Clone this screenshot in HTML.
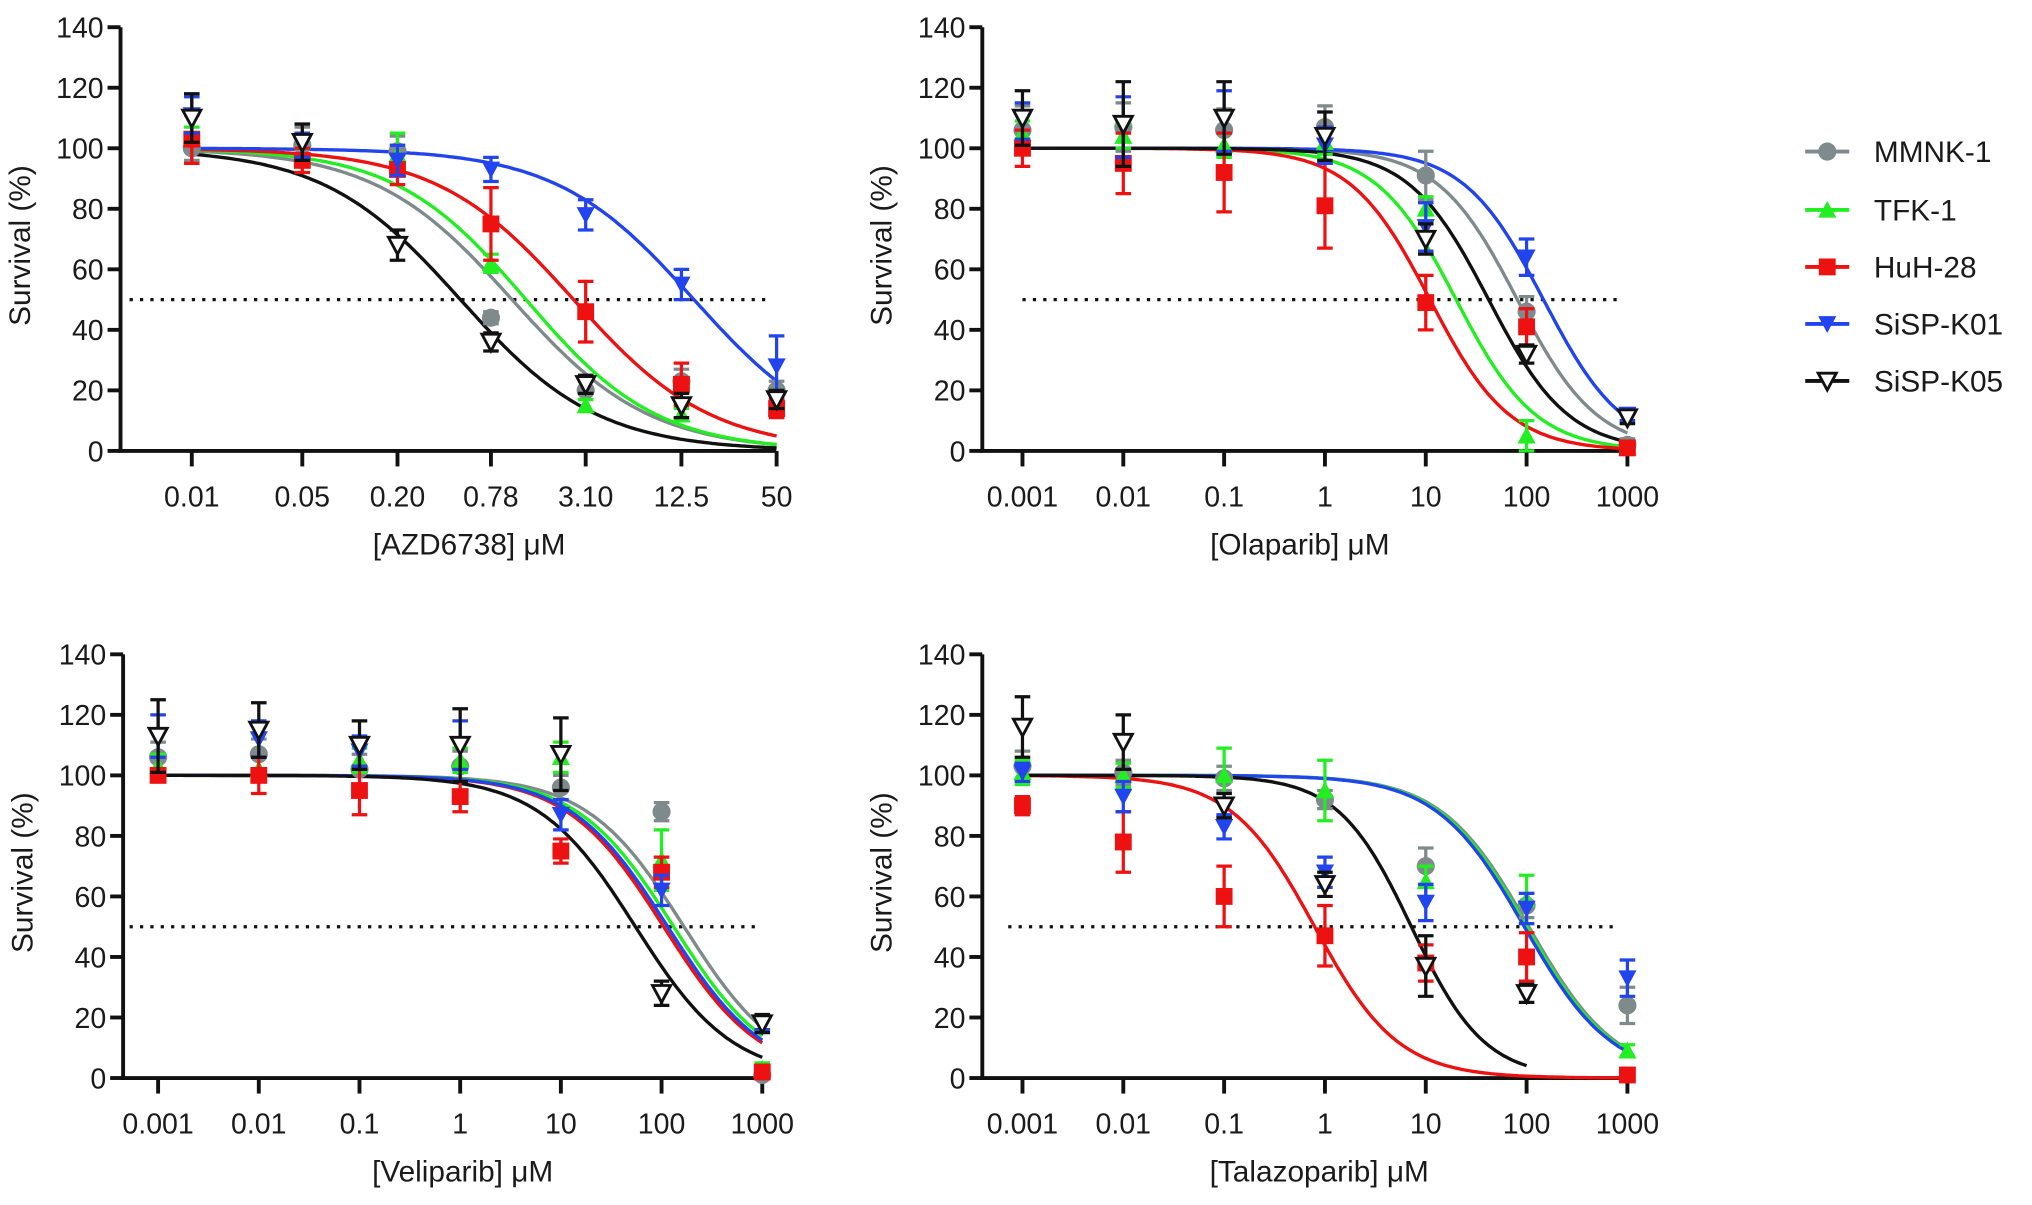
<!DOCTYPE html>
<html><head><meta charset="utf-8"><style>
html,body{margin:0;padding:0;background:#fff;}
svg{display:block;}
text{font-family:"Liberation Sans",Arial,sans-serif;fill:#1a1a1a;}
</style></head><body>
<svg id="chart" width="2032" height="1205" viewBox="0 0 1568 930" preserveAspectRatio="none" xmlns="http://www.w3.org/2000/svg"></svg>
<script>
// ---------- data ----------
const seriesNames = ["MMNK-1","TFK-1","HuH-28","SiSP-K01","SiSP-K05"];
const seriesColors = ["#7f8a8c","#22ee22","#ee1111","#2244ee","#111111"];
const yTicks = [0,20,40,60,80,100,120,140];

const azdConc = [0.01,0.05,0.2,0.78,3.1,12.5,50];
const azdLabels = ["0.01","0.05","0.20","0.78","3.10","12.5","50"];
const azdMeans = [
 [100,101,99,44,20,23,20],
 [104,97,98,62,15,12,14],
 [103,96,93,75,46,22,14],
 [111,101,96,93,78,55,28],
 [110,102,68,36,22,15,17]];
const azdErr = [
 [4,6,5,2,3,4,3],[3,3,7,3,2,2,2],[8,4,5,12,10,7,3],[6,4,5,4,5,5,10],[8,6,5,3,3,4,3]];
const azdIC50 = [1.06,1.3,2.6,15,0.5];
const azdHill = [1,1.05,1,1,1];

const logConc = [0.001,0.01,0.1,1,10,100,1000];
const logLabels = ["0.001","0.01","0.1","1","10","100","1000"];

const olaMeans = [
 [106,107,106,107,91,46,2],
 [105,104,101,102,80,5,1],
 [100,95,92,81,49,41,1],
 [109,107,109,101,74,64,12],
 [110,108,110,104,70,32,11]];
const olaErr = [[8,8,7,7,8,5,2],[4,4,4,4,4,5,2],[6,10,13,14,9,6,2],[6,10,10,6,8,6,2],[9,14,12,8,5,3,2]];
const olaIC50 = [81,20,11,147,42];
const olaHill = [1.1,1.1,1.1,1.1,1.1];

const velMeans = [
 [106,107,102,103,96,88,1],
 [103,102,105,105,106,72,3],
 [100,100,95,93,75,68,2],
 [113,112,108,110,87,62,18],
 [113,115,110,110,107,28,18]];
const velErr = [[5,5,5,5,4,3,1],[4,4,4,4,5,10,2],[2,6,8,5,4,5,1],[7,6,5,8,5,5,2],[12,9,8,12,12,4,3]];
const velIC50 = [167,132,105,115,55];
const velHill = [0.9,0.9,0.9,0.9,0.9];

const talMeans = [
 [103,101,99,92,70,57,24],
 [101,100,100,95,65,59,9],
 [90,78,60,47,38,40,1],
 [101,93,83,68,58,56,33],
 [116,111,90,64,37,28,null]];
const talErr = [[5,4,4,3,6,4,6],[4,4,9,10,5,8,2],[3,10,10,10,6,8,1],[3,5,4,5,6,5,6],[10,9,4,4,10,3,0]];
const talIC50 = [105,100,0.79,95,7.2];
const talHill = [1.0,1.0,1.05,1.0,1.2];
const talMaxConc = [1000,1000,1000,1000,100];

// ---------- drawing ----------
const svg = document.getElementById('chart');
const NS = "http://www.w3.org/2000/svg";
function mk(tag, attrs, parent){
  const e = document.createElementNS(NS, tag);
  for (const k in attrs) e.setAttribute(k, attrs[k]);
  (parent||svg).appendChild(e);
  return e;
}

function marker(g, i, x, y){
  const c = seriesColors[i]; let m;
  if (i===0){ m = mk('circle',{cx:x,cy:y,r:7,fill:c},g); }
  else if (i===1){ m = mk('polygon',{points:`${x},${y-7} ${x-7},${y+6} ${x+7},${y+6}`,fill:c},g); }
  else if (i===2){ m = mk('rect',{x:x-6.5,y:y-6.5,width:13,height:13,fill:c},g); }
  else if (i===3){ m = mk('polygon',{points:`${x-7},${y-6} ${x+7},${y-6} ${x},${y+7}`,fill:c},g); }
  else { m = mk('polygon',{points:`${x-7},${y-6} ${x+7},${y-6} ${x},${y+7}`,fill:'#fff',stroke:c,'stroke-width':2.2},g); }
  return m;
}

function panel(p){
  const g = mk('g',{});
  
  
  const y0=p.y0, y140=p.y140;
  const yS = v => y0 - (v/140)*(y0-y140);
  const lmin = Math.log10(p.conc[0]);
  const xS = c => p.x0 + (Math.log10(c)-lmin)*p.dec;
  const ax = mk('path',{d:`M${p.axX},${y140} L${p.axX},${y0} L${p.axEnd},${y0}`,stroke:'#111','stroke-width':3,fill:'none'},g);
  
  
  yTicks.forEach(t=>{
    const yy=yS(t);
    mk('line',{x1:p.axX-10,x2:p.axX,y1:yy,y2:yy,stroke:'#111','stroke-width':3},g);
    const tx = mk('text',{x:p.axX-13,y:yy+8,'text-anchor':'end','font-size':22},g);
    tx.textContent=t;
    
    
  });
  p.conc.forEach((c,k)=>{
    const xx=xS(c);
    mk('line',{x1:xx,x2:xx,y1:y0,y2:y0+12,stroke:'#111','stroke-width':3},g);
    const tx = mk('text',{x:xx,y:y0+43,'text-anchor':'middle','font-size':22},g);
    tx.textContent=p.labels[k];
    
    
  });
  const yt = mk('text',{x:0,y:0,'text-anchor':'middle','font-size':23,transform:`translate(${p.axX-70},${(y0+y140)/2+5}) rotate(-90)`},g);
  yt.textContent='Survival (%)';
  
  
  const xt = mk('text',{x:p.xtX,y:y0+80,'text-anchor':'middle','font-size':23},g);
  xt.textContent=p.xTitle;
  
  
  const dl = mk('line',{x1:p.dotA,x2:p.dotB,y1:yS(50),y2:yS(50),stroke:'#111','stroke-width':2.5,'stroke-dasharray':'2.5 5.5'},g);
  
  
  for (let i=0;i<5;i++){
    const maxC = p.maxConc ? p.maxConc[i] : p.conc[p.conc.length-1];
    const a=Math.log10(p.conc[0]), b=Math.log10(maxC);
    let d='';
    for (let s=0;s<=200;s++){
      const lc=a+(b-a)*s/200, c=Math.pow(10,lc);
      const v=100/(1+Math.pow(c/p.ic50[i],p.hill[i]));
      d+=(s?'L':'M')+xS(c).toFixed(1)+','+yS(v).toFixed(1);
    }
    const cv = mk('path',{d,stroke:seriesColors[i],'stroke-width':2.6,fill:'none'},g);
    
    
  }
  for (let i=0;i<5;i++){
    const sg = mk('g',{},g);
    
    
    p.means[i].forEach((v,k)=>{
      if (v===null) return;
      const xx=xS(p.conc[k]), e=p.err[i][k];
      const yt2=yS(v+e), yb=yS(v-e), col=seriesColors[i];
      mk('path',{d:`M${xx},${yt2} L${xx},${yb} M${xx-6},${yt2} L${xx+6},${yt2} M${xx-6},${yb} L${xx+6},${yb}`,stroke:col,'stroke-width':2.5,fill:'none'},sg);
      const m = marker(sg,i,xx,yS(v));
      
      
    });
  }
}

panel({name:'panel-azd6738',conc:azdConc,labels:azdLabels,means:azdMeans,err:azdErr,ic50:azdIC50,hill:azdHill,
  x0:148,dec:122,axX:93,axEnd:599,y0:348,y140:21,xTitle:'[AZD6738] μM',xtX:362,dotA:100,dotB:595});
panel({name:'panel-olaparib',conc:logConc,labels:logLabels,means:olaMeans,err:olaErr,ic50:olaIC50,hill:olaHill,
  x0:789,dec:77.8,axX:758,axEnd:1257,y0:348,y140:21,xTitle:'[Olaparib] μM',xtX:1003,dotA:789,dotB:1250});
panel({name:'panel-veliparib',conc:logConc,labels:logLabels,means:velMeans,err:velErr,ic50:velIC50,hill:velHill,
  x0:122,dec:77.7,axX:95,axEnd:589,y0:832,y140:505,xTitle:'[Veliparib] μM',xtX:357,dotA:100,dotB:585});
panel({name:'panel-talazoparib',conc:logConc,labels:logLabels,means:talMeans,err:talErr,ic50:talIC50,hill:talHill,maxConc:talMaxConc,
  x0:789,dec:77.8,axX:758,axEnd:1257,y0:832,y140:505,xTitle:'[Talazoparib] μM',xtX:1018,dotA:778,dotB:1250});

const lg = mk('g',{});


const legY = [117,162,206,250,294];
seriesNames.forEach((n,i)=>{
  const eg = mk('g',{},lg);
  
  
  mk('line',{x1:1393,x2:1427,y1:legY[i],y2:legY[i],stroke:seriesColors[i],'stroke-width':3},eg);
  marker(eg,i,1410,legY[i]);
  const t = mk('text',{x:1446,y:legY[i]+8,'font-size':23},eg);
  t.textContent=n;
});
</script>
</body></html>
